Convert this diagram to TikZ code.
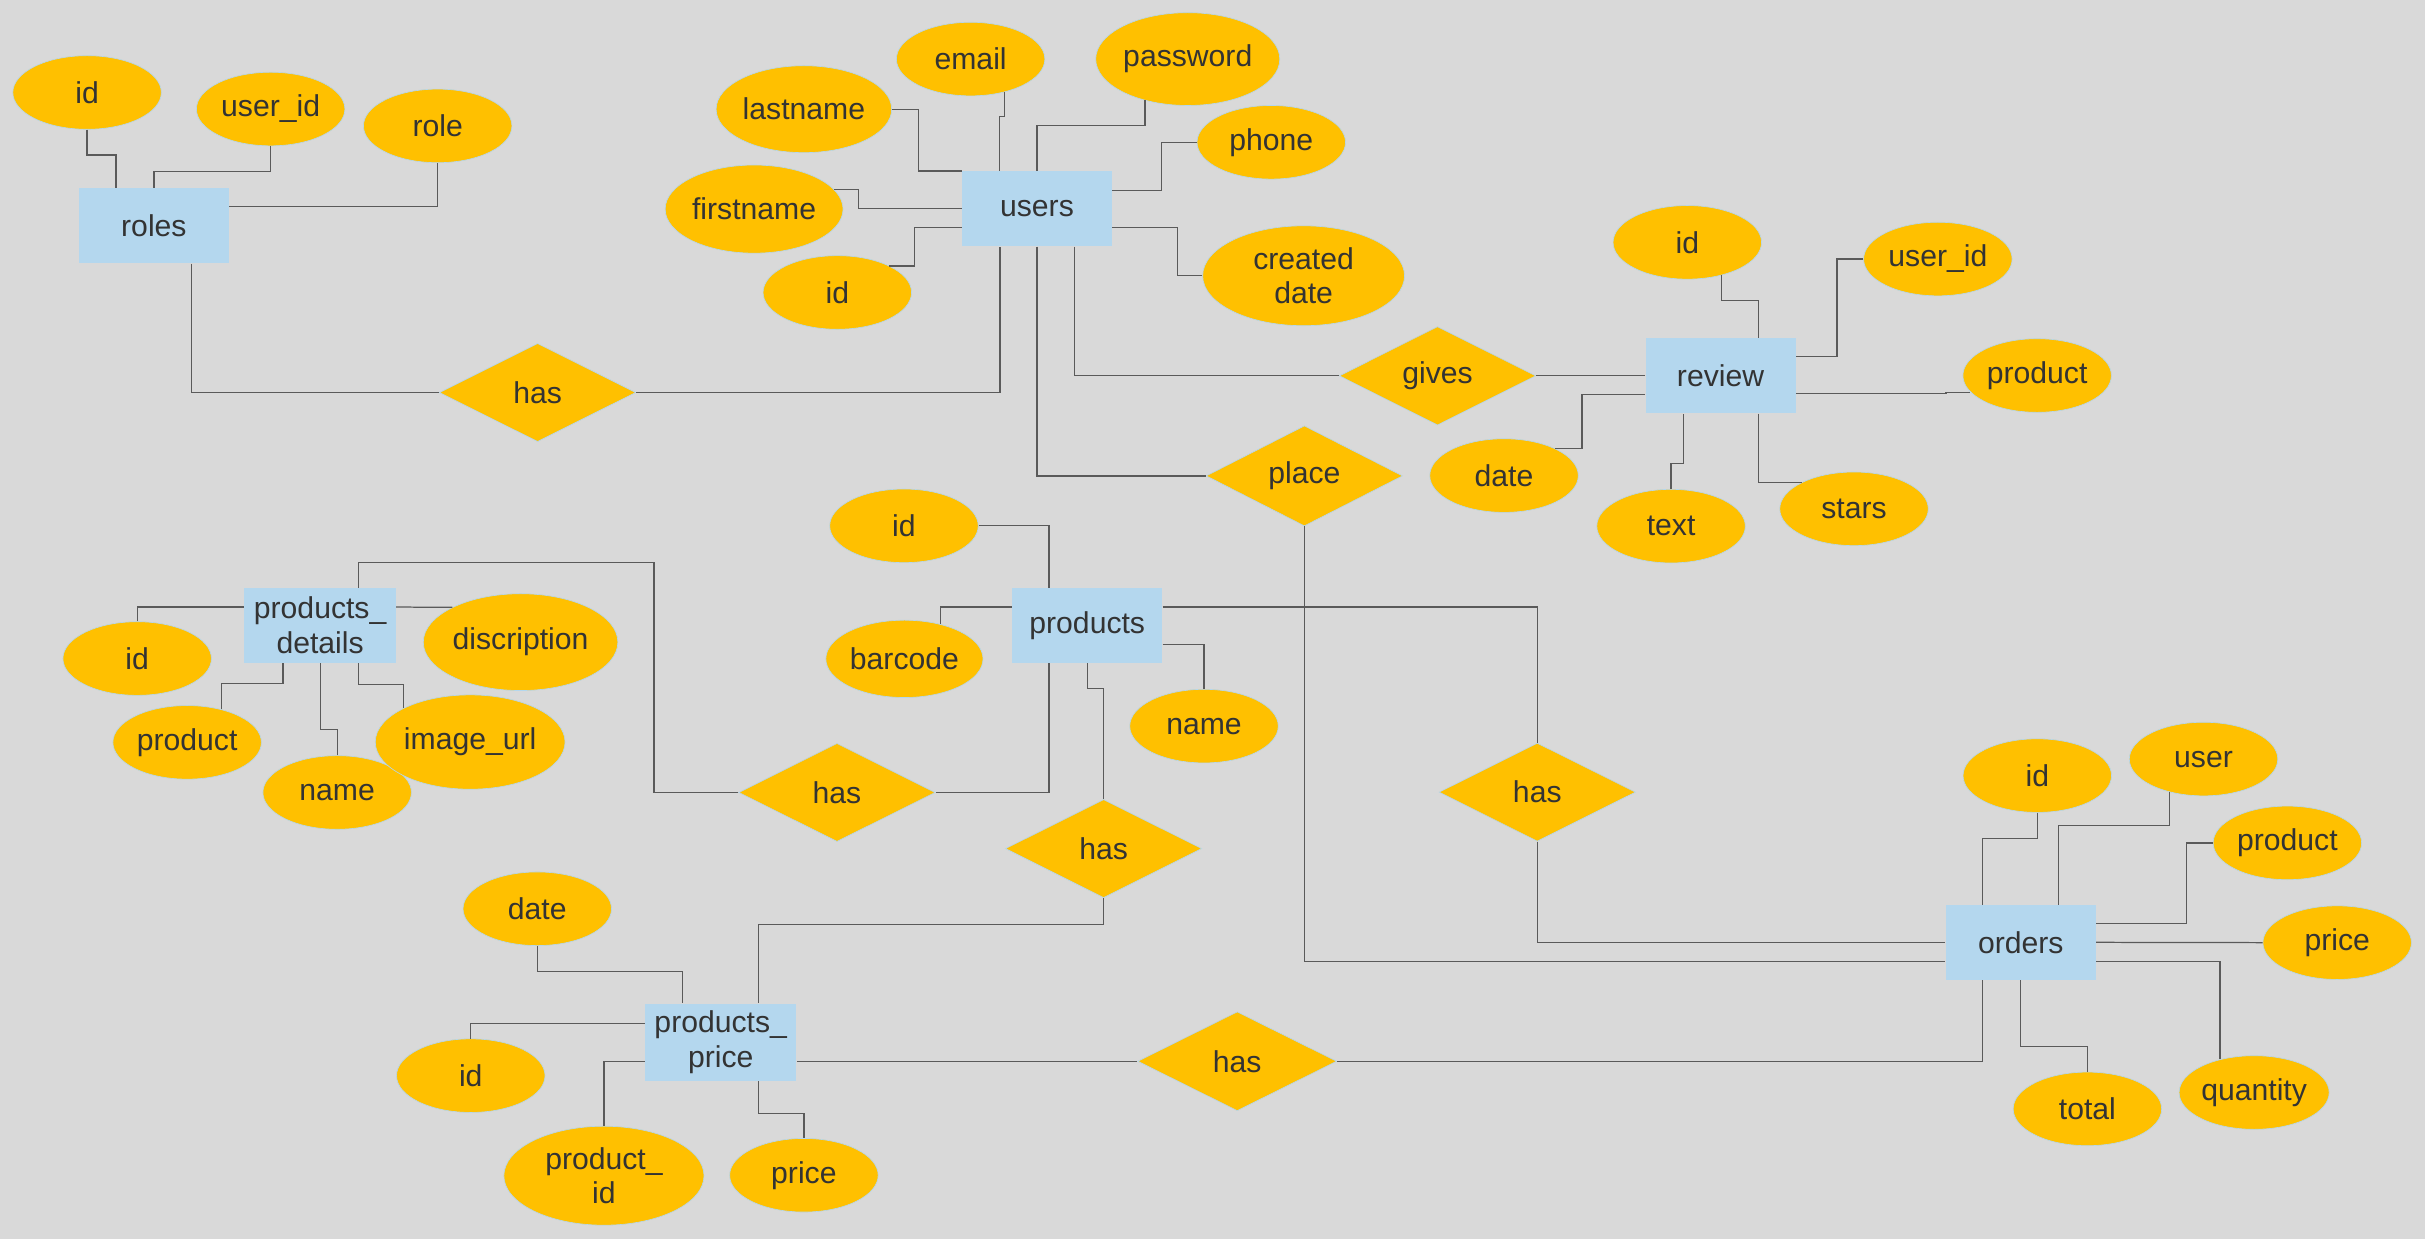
\documentclass[tikz,border=0pt]{standalone}
\usepackage{fontspec}
\setmainfont{Liberation Sans}
\usepackage{xcolor}
\definecolor{erbg}{HTML}{D9D9D9}
\definecolor{erblue}{HTML}{B4D7EE}
\definecolor{eramber}{HTML}{FFC000}
\definecolor{ertext}{HTML}{333333}
\definecolor{erline}{HTML}{5A5A5A}
\usepackage{tikz}
\usetikzlibrary{shapes,positioning}

\begin{document}
\begin{tikzpicture}[
        x=1pt, y=-1pt,
        entity/.style={rectangle, fill=erblue, minimum width=97pt, minimum height=48.5pt, inner sep=0pt, align=center, text=ertext, font=\fontsize{19.5}{22.5}\selectfont},
        attrib/.style={ellipse, fill=eramber, draw=erblue, line width=0.4pt, minimum width=96pt, minimum height=47.6pt, inner sep=0pt, align=center, text=ertext, font=\fontsize{19.5}{22.5}\selectfont},
        relship/.style={diamond, fill=eramber, draw=erblue, line width=0.4pt, minimum width=127pt, minimum height=63.5pt, inner sep=0pt, text=ertext, font=\fontsize{19.5}{22.5}\selectfont},
        conn/.style={draw=erline, line width=0.8pt}
    ]
        \useasboundingbox (0,0) rectangle (1568,801);
        \fill[erbg] (0,0) rectangle (1568,801);

        % roles
        \node[entity] (roles) at (99.5,146) {roles};
        \node[attrib] (rolesid) at (56.3,59.8) {id};
        \node[attrib] (rolesuserid) at (175,70.5) {user\_id};
        \node[attrib] (rolesrole) at (283,81.4) {role};

        % users
        \node[entity] (users) at (670.5,135) {users};
        \node[attrib, minimum width=113.5pt, minimum height=56.2pt] (userslast) at (519.8,70.6) {lastname};
        \node[attrib, minimum width=115pt, minimum height=57pt] (usersfirst) at (487.6,135.2) {firstname};
        \node[attrib] (usersid) at (541.4,189.1) {id};
        \node[attrib] (usersemail) at (627.6,38.2) {email};
        \node[attrib, minimum width=119pt, minimum height=60pt] (userspass) at (768,38.2) {password};
        \node[attrib] (usersphone) at (822,92) {phone};
        \node[attrib, minimum width=130.5pt, minimum height=64.6pt] (userscreated) at (842.9,178.3) {created\\date};

        % review
        \node[entity] (review) at (1112.5,243) {review};
        \node[attrib] (reviewid) at (1091,156.7) {id};
        \node[attrib] (reviewuserid) at (1253,167.5) {user\_id};
        \node[attrib] (reviewprod) at (1317.2,242.8) {product};
        \node[attrib] (reviewdate) at (972.5,307.5) {date};
        \node[attrib] (reviewtext) at (1080.5,340.2) {text};
        \node[attrib] (reviewstars) at (1198.8,329) {stars};

        % products
        \node[entity] (products) at (703,404.5) {products};
        \node[attrib] (productsid) at (584.5,340) {id};
        \node[attrib, minimum width=101.6pt, minimum height=50pt] (productsbar) at (584.8,426) {barcode};
        \node[attrib] (productsname) at (778.5,469.5) {name};

        % products_details
        \node[entity, minimum width=98pt] (pdetails) at (207,404.5) {products\_\\details};
        \node[attrib] (pdetailsid) at (88.7,425.8) {id};
        \node[attrib, minimum width=125.8pt, minimum height=62.6pt] (pdetailsdisc) at (336.6,415.2) {discription};
        \node[attrib] (pdetailsprod) at (121,480) {product};
        \node[attrib] (pdetailsname) at (218,512.4) {name};
        \node[attrib, minimum width=122.7pt, minimum height=61pt] (pdetailsimg) at (304,479.8) {image\_url};

        % products_price
        \node[entity, minimum width=98pt, minimum height=50pt] (pprice) at (466,674) {products\_\\price};
        \node[attrib] (ppricedate) at (347.4,587.6) {date};
        \node[attrib] (ppriceid) at (304.4,695.5) {id};
        \node[attrib, minimum width=129.4pt, minimum height=64pt] (ppriceprodid) at (390.5,760.2) {product\_\\id};
        \node[attrib] (ppriceprice) at (519.8,759.9) {price};

        % orders
        \node[entity] (orders) at (1306.6,609.3) {orders};
        \node[attrib] (ordersid) at (1317.3,501.5) {id};
        \node[attrib] (ordersuser) at (1424.8,490.8) {user};
        \node[attrib] (ordersprod) at (1479,545) {product};
        \node[attrib] (ordersprice) at (1511.2,609.5) {price};
        \node[attrib] (orderstotal) at (1349.7,717) {total};
        \node[attrib, minimum width=97pt] (ordersqty) at (1457.5,706.4) {quantity};

        % Relationships
        \node[relship] (hasrole) at (347.6,253.8) {has};
        \node[relship] (gives) at (929.5,243) {gives};
        \node[relship] (place) at (843.4,307.7) {place};
        \node[relship] (hasdetails) at (541.2,512.4) {has};
        \node[relship] (hasprice) at (713.6,548.7) {has};
        \node[relship] (hasorder) at (994,512.2) {has};
        \node[relship, minimum width=128.7pt, minimum height=64pt] (haspriceorder) at (800,686.2) {has};

        % roles links
        \draw[conn] (rolesid.south) -- ++(0,16.4) -| ([xshift=-24.5pt]roles.north);
        \draw[conn] (rolesuserid.south) -- ++(0,16.6) -| (roles.north);
        \draw[conn] (rolesrole.south) |- ([yshift=12.4pt]roles.east);
        \draw[conn] ([xshift=24.2pt]roles.south) |- (hasrole.west);
        \draw[conn] (hasrole.east) -| ([xshift=-23.9pt]users.south);

        % users links
        \draw[conn] (userslast.east) -- ++(17.3,0) |- (users.north west);
        \draw[conn] (usersfirst.14) -- ++(16,0) |- (users.west);
        \draw[conn] (usersid.27) -- ++(16,0) |- ([yshift=-12pt]users.west);
        \draw[conn] (usersemail.-44) -- ++(0,16) -| ([xshift=-24pt]users.north);
        \draw[conn] (userspass.224) -- ++(0,16) -| (users.north);
        \draw[conn] (usersphone.west) -- ++(-23,0) |- ([yshift=12pt]users.east);
        \draw[conn] ([yshift=-12pt]users.east) -- ++(42,0) |- (userscreated.west);
        \draw[conn] ([xshift=24.5pt]users.south) |- (gives.west);
        \draw[conn] (gives.east) -- (review.west);
        \draw[conn] (users.south) |- (place.west);
        \draw[conn] (place.south) |- ([yshift=-12.4pt]orders.west);

        % review links
        \draw[conn] (reviewid.-44) -- ++(0,16.5) -| ([xshift=24.3pt]review.north);
        \draw[conn] (reviewuserid.west) -- ++(-17,0) |- ([yshift=12.3pt]review.east);
        \draw[conn] ([yshift=-11.5pt]review.east) -- ++(97,0) |- (reviewprod.194);
        \draw[conn] (reviewdate.28) -- ++(17.5,0) |- ([yshift=-12pt]review.west);
        \draw[conn] (reviewtext.north) -- ++(0,-16.4) -| ([xshift=-24pt]review.south);
        \draw[conn] ([xshift=24.3pt]review.south) |- (reviewstars.153);

        % products links
        \draw[conn] (productsid.east) -| ([xshift=-24.7pt]products.north);
        \draw[conn] (productsbar.44) |- ([yshift=12pt]products.west);
        \draw[conn] ([yshift=-12pt]products.east) -| (productsname.north);
        \draw[conn] ([xshift=-24.7pt]products.south) |- (hasdetails.east);
        \draw[conn] (hasdetails.west) -| ++(-54.6,-148.5) -| ([xshift=25pt]pdetails.north);
        \draw[conn] (products.south) -- ++(0,16) -| (hasprice.north);
        \draw[conn] (hasprice.south) -- ++(0,17) -| ([xshift=24.2pt]pprice.north);
        \draw[conn] ([yshift=12pt]products.east) -| (hasorder.north);
        \draw[conn] (hasorder.south) |- (orders.west);

        % products_details links
        \draw[conn] (pdetailsid.north) |- ([yshift=12pt]pdetails.west);
        \draw[conn] ([yshift=12pt]pdetails.east) -- (pdetailsdisc.153);
        \draw[conn] (pdetailsprod.44) -- ++(0,-16.7) -| ([xshift=-24pt]pdetails.south);
        \draw[conn] (pdetailsname.north) -- ++(0,-16.6) -| (pdetails.south);
        \draw[conn] ([xshift=25pt]pdetails.south) -- ++(0,13.5) -| (pdetailsimg.153);

        % products_price links
        \draw[conn] (ppricedate.south) -- ++(0,16.6) -| ([xshift=-24.8pt]pprice.north);
        \draw[conn] (ppriceid.north) |- ([yshift=12.2pt]pprice.west);
        \draw[conn] (ppriceprodid.north) |- ([yshift=-12.2pt]pprice.west);
        \draw[conn] ([xshift=24.2pt]pprice.south) -- ++(0,20.8) -| (ppriceprice.north);
        \draw[conn] (pprice.east |- haspriceorder.west) -- (haspriceorder.west);
        \draw[conn] (haspriceorder.east) -| ([xshift=-24.5pt]orders.south);

        % orders links
        \draw[conn] (ordersid.south) -- ++(0,16.5) -| ([xshift=-24.5pt]orders.north);
        \draw[conn] (ordersuser.224) -- ++(0,21.6) -| ([xshift=24.4pt]orders.north);
        \draw[conn] (ordersprod.west) -- ++(-17,0) |- ([yshift=12.3pt]orders.east);
        \draw[conn] (orders.east) -- (ordersprice.west);
        \draw[conn] (orders.south) -- ++(0,43.1) -| (orderstotal.north);
        \draw[conn] ([yshift=-12.4pt]orders.east) -| (ordersqty.136);

    \end{tikzpicture}
\end{document}
